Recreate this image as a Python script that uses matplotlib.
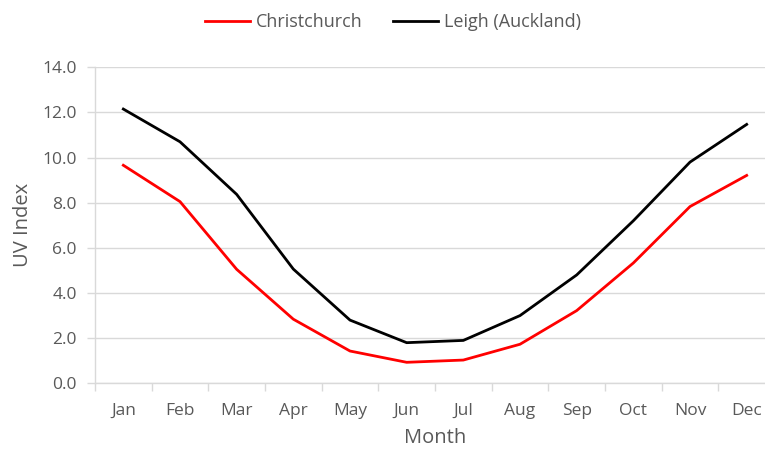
import matplotlib
matplotlib.use("Agg")
import matplotlib.pyplot as plt
from matplotlib.ticker import FixedLocator, NullFormatter

months = ["Jan", "Feb", "Mar", "Apr", "May", "Jun", "Jul", "Aug", "Sep", "Oct", "Nov", "Dec"]
christchurch = [9.66, 8.05, 5.05, 2.84, 1.43, 0.93, 1.03, 1.73, 3.22, 5.33, 7.83, 9.21]
leigh = [12.15, 10.7, 8.37, 5.06, 2.8, 1.8, 1.9, 3.0, 4.8, 7.2, 9.8, 11.47]
yticks = [0, 2, 4, 6, 8, 10, 12, 14]

plt.rcParams['font.family'] = ['Open Sans', 'DejaVu Sans']
txt = '#595959'
grid = '#d9d9d9'

fig = plt.figure(figsize=(7.65, 4.5), dpi=100)
ax = fig.add_axes([95/765, 66.7/450, 680/765, 316/450])

x = list(range(len(months)))
l1, = ax.plot(x, christchurch, color='#ff0000', lw=2, label='Christchurch')
l2, = ax.plot(x, leigh, color='#000000', lw=2, label='Leigh (Auckland)')

ax.set_xlim(-0.5, len(months) - 0.5)
ax.set_ylim(0, 14)
ax.set_yticks(yticks)
ax.set_yticklabels([f"{v:.1f}" for v in yticks], color=txt, fontsize=12.5)
ax.set_xticks(x)
ax.set_xticklabels(months, color=txt, fontsize=12.5)
ax.tick_params(axis='x', which='major', length=0, pad=14)
ax.xaxis.set_minor_locator(FixedLocator([i - 0.5 for i in range(len(months) + 1)]))
ax.xaxis.set_minor_formatter(NullFormatter())
ax.tick_params(axis='x', which='minor', length=6, color=grid, width=1)
ax.tick_params(axis='y', length=6, color=grid, width=1, pad=7)

ax.grid(axis='y', color=grid, lw=1)
ax.set_axisbelow(True)
for s in ['top', 'right']:
    ax.spines[s].set_visible(False)
for s in ['left', 'bottom']:
    ax.spines[s].set_color(grid)
    ax.spines[s].set_linewidth(1)

ax.set_ylabel('UV Index', color=txt, fontsize=14.5, labelpad=7)
ax.set_xlabel('Month', color=txt, fontsize=14.5, labelpad=7)

fig.legend(handles=[l1, l2], loc='center', bbox_to_anchor=(393/765, 1 - 22/450), ncol=2,
           frameon=False, fontsize=13, labelcolor=txt, handlelength=2.5,
           columnspacing=1.7, handletextpad=0.3)

fig.savefig('out.png', dpi=100)
